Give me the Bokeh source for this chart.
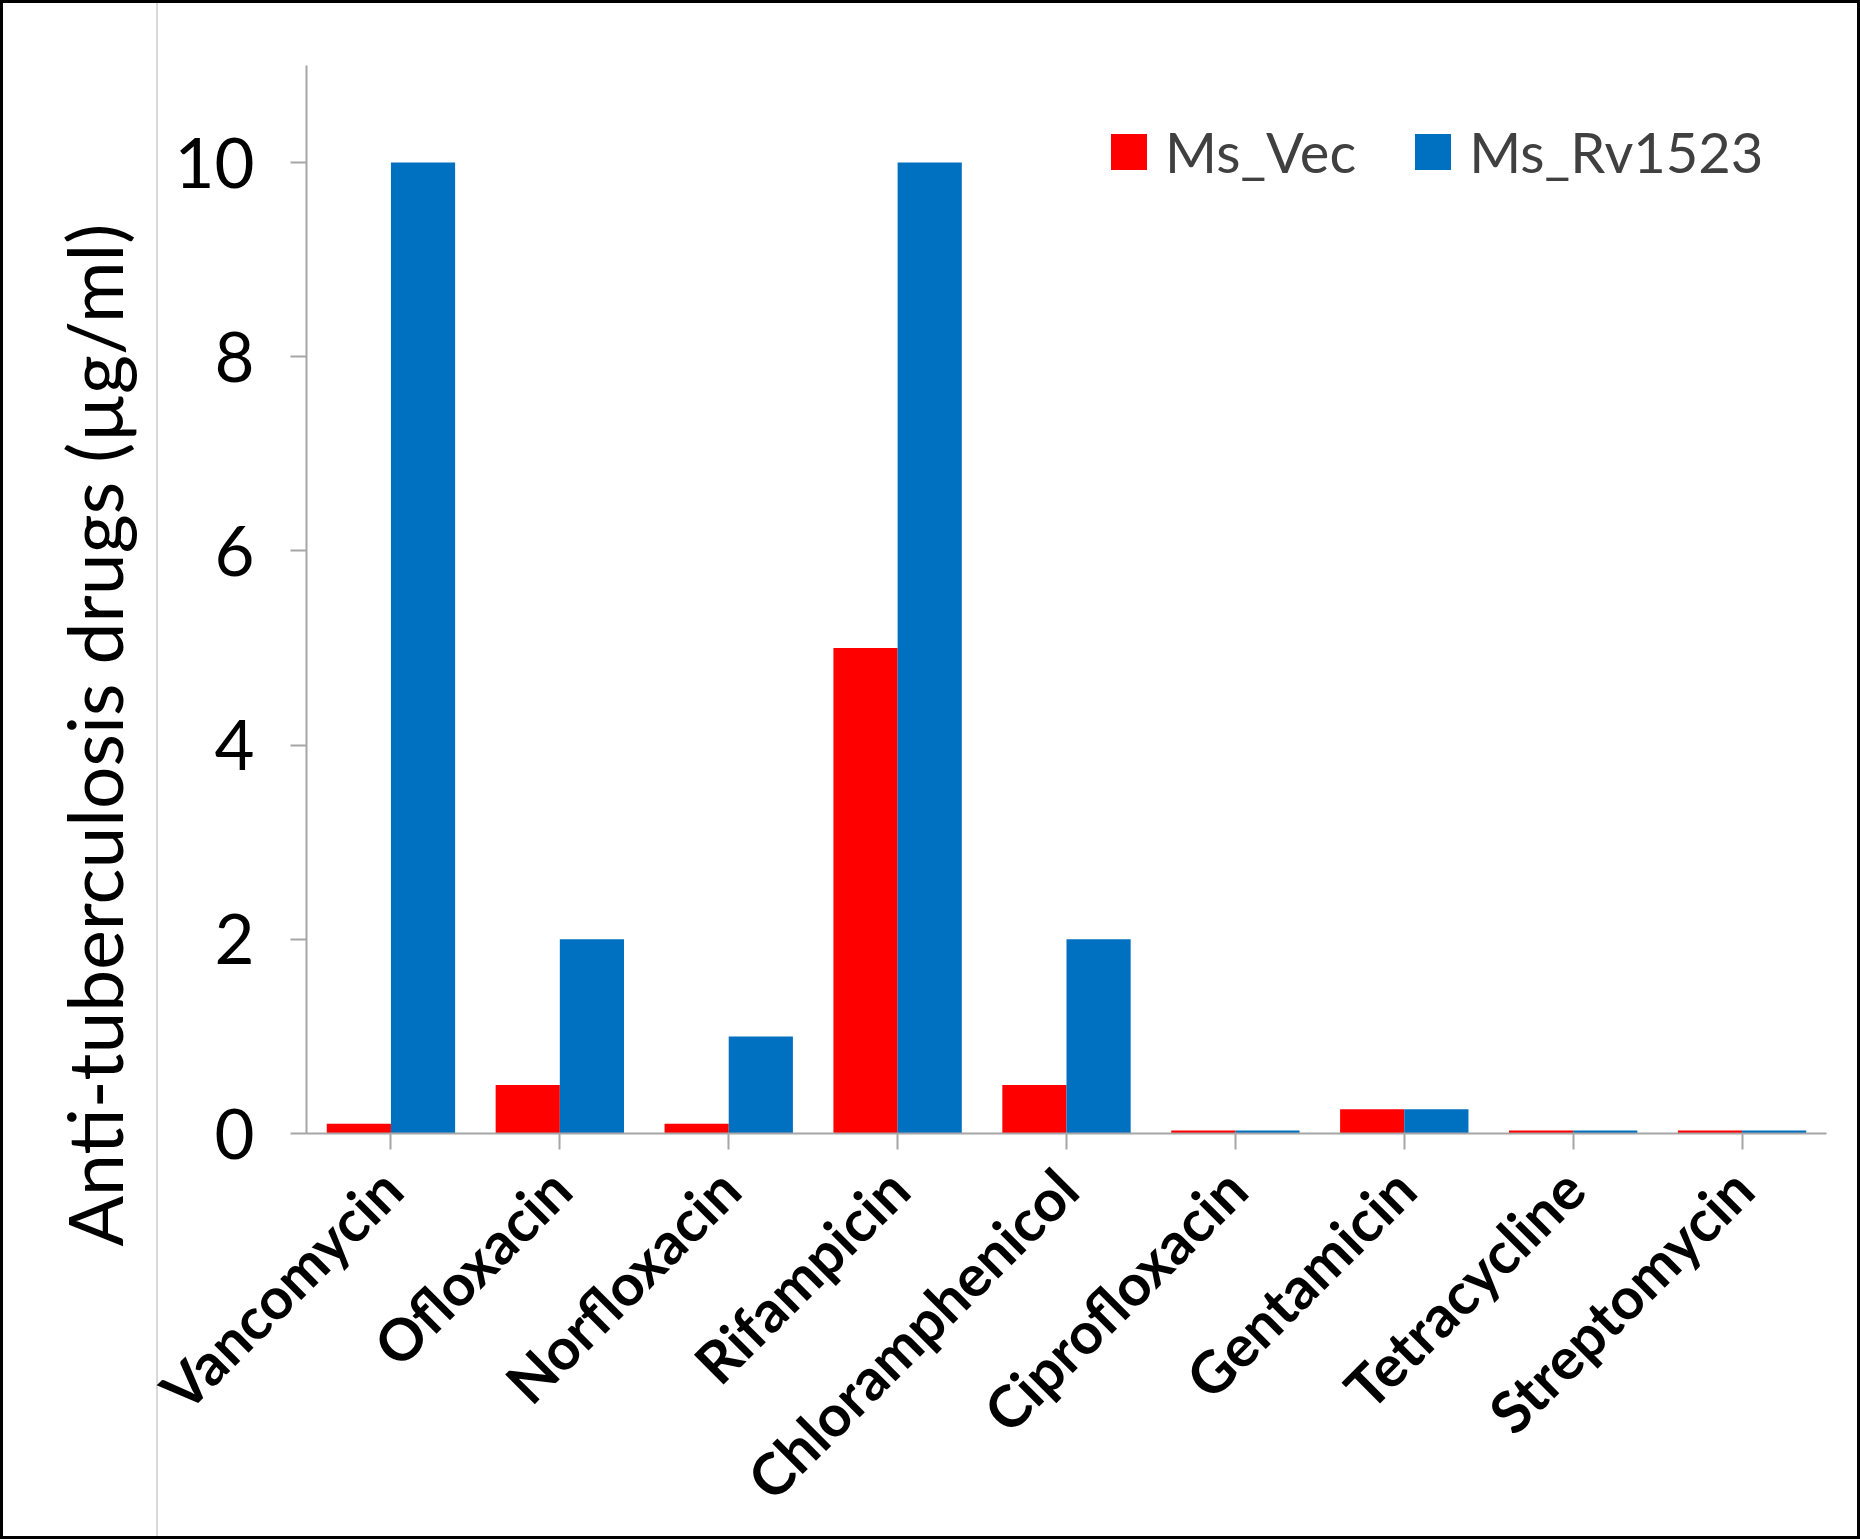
import math
from bokeh.plotting import figure
from bokeh.models import (ColumnDataSource, Range1d, FactorRange, Legend, LegendItem, Title)
from bokeh.transform import dodge
from bokeh.embed import file_html
from bokeh.resources import INLINE

drugs = ["Vancomycin", "Ofloxacin", "Norfloxacin", "Rifampicin", "Chloramphenicol",
         "Ciprofloxacin", "Gentamicin", "Tetracycline", "Streptomycin"]
ms_vec = [0.1, 0.5, 0.1, 5, 0.5, 0.03, 0.25, 0.03, 0.03]
ms_rv1523 = [10, 2, 1, 10, 2, 0.03, 0.25, 0.03, 0.03]
y_ticks = [0, 2, 4, 6, 8, 10]
series_names = ["Ms_Vec", "Ms_Rv1523"]
series_colors = ["#FF0000", "#0070C0"]
y_title = "Anti-tuberculosis drugs (µg/ml)"

source = ColumnDataSource(dict(drug=drugs, vec=ms_vec, rv=ms_rv1523))

FONT = "Lato"

p = figure(width=1860, height=1539, output_backend="svg", toolbar_location=None,
           x_range=FactorRange(factors=drugs), y_range=Range1d(0, 11),
           min_border_left=306, min_border_top=65, min_border_right=34, min_border_bottom=397)
p.styles = {
    "background": (
        "linear-gradient(to right, black 0px, black 3px, transparent 3px, "
        "transparent calc(100% - 3px), black calc(100% - 3px)), "
        "linear-gradient(to bottom, black 0px, black 3px, transparent 3px, "
        "transparent calc(100% - 3px), black calc(100% - 3px)), "
        "linear-gradient(to right, white 156px, #D9D9D9 156px, #D9D9D9 158px, white 158px)"
    )
}

r1 = p.vbar(x=dodge("drug", -0.19, range=p.x_range), top="vec", width=0.38, source=source,
            fill_color=series_colors[0], line_color=None)
r2 = p.vbar(x=dodge("drug", 0.19, range=p.x_range), top="rv", width=0.38, source=source,
            fill_color=series_colors[1], line_color=None)

p.xgrid.visible = False
p.ygrid.visible = False
p.outline_line_color = None
p.background_fill_color = "white"
p.border_fill_color = None

# y axis
p.yaxis.ticker = y_ticks
p.yaxis.axis_line_color = "#A6A6A6"
p.yaxis.axis_line_width = 2
p.yaxis.major_tick_line_color = "#A6A6A6"
p.yaxis.major_tick_line_width = 2
p.yaxis.major_tick_in = 0
p.yaxis.major_tick_out = 16
p.yaxis.minor_tick_line_color = None
p.yaxis.major_label_text_font = FONT
p.yaxis.major_label_text_font_size = "69px"
p.yaxis.major_label_text_color = "black"
p.yaxis.major_label_standoff = 36

# y axis title (off-centre as in the reference)
p.add_layout(Title(text=y_title, align="left", offset=-113, standoff=65,
                   text_font=FONT, text_font_size="75px", text_font_style="normal",
                   text_color="black"), "left")

# x axis
p.xaxis.axis_line_color = "#A6A6A6"
p.xaxis.axis_line_width = 2
p.xaxis.major_tick_line_color = "#A6A6A6"
p.xaxis.major_tick_line_width = 2
p.xaxis.major_tick_in = 0
p.xaxis.major_tick_out = 16
p.xaxis.major_label_orientation = math.pi / 4
p.xaxis.major_label_text_font = FONT
p.xaxis.major_label_text_font_size = "58px"
p.xaxis.major_label_text_font_style = "bold"
p.xaxis.major_label_text_color = "black"
p.xaxis.major_label_standoff = 29

legend = Legend(items=[LegendItem(label=series_names[0], renderers=[r1]),
                       LegendItem(label=series_names[1], renderers=[r2])],
                orientation="horizontal", location=(800, 948),
                padding=0, margin=0, spacing=54, label_standoff=14,
                glyph_width=45, glyph_height=45,
                label_text_font=FONT, label_text_font_size="56px",
                label_text_color="#404040",
                border_line_color=None, background_fill_alpha=0)
p.add_layout(legend, "center")

open("out.html", "w").write(file_html(p, INLINE))
